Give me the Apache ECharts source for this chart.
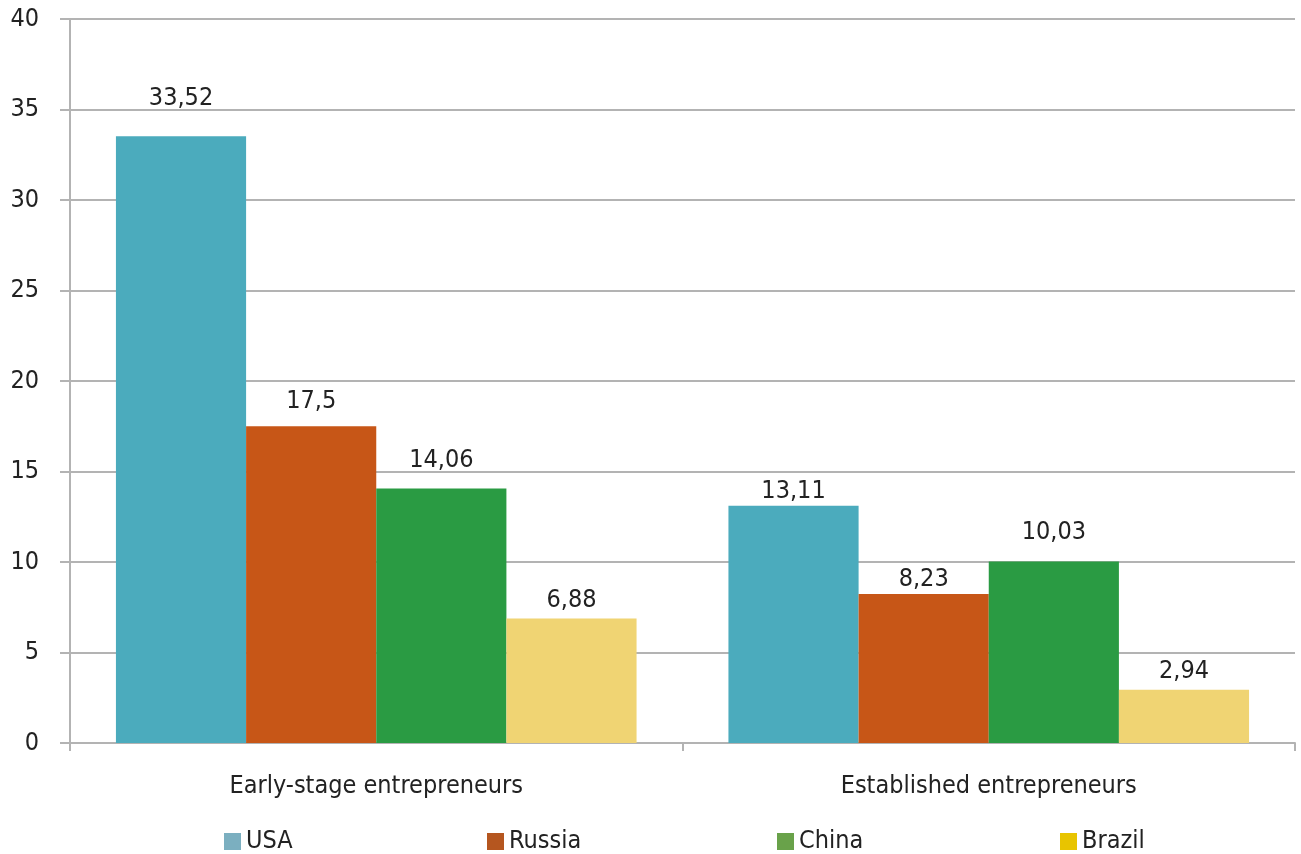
<!DOCTYPE html>
<html><head><meta charset="utf-8">
<script src="https://cdn.jsdelivr.net/npm/echarts@6/dist/echarts.min.js"></script>
<style>html,body{margin:0;padding:0;background:#fff}#c{width:1301px;height:854px}</style>
</head><body><div id="c"></div>
<script>
const categories = ['Early-stage entrepreneurs', 'Established entrepreneurs'];
const seriesNames = ['USA', 'Russia', 'China', 'Brazil'];
const usa = [33.52, 13.11];
const russia = [17.5, 8.23];
const china = [14.06, 10.03];
const brazil = [6.88, 2.94];
const yTicks = [0, 5, 10, 15, 20, 25, 30, 35, 40];

// styling (not data)
const barColors = ['#4babbd', '#c75617', '#2a9b43', '#f0d473'];
const legendColors = ['#7bafc0', '#b5561f', '#69a24a', '#e8c400'];
const legendLeft = [224, 487, 777, 1060];
const labelDist = [[25, 2], [12, 2], [16, 16], [5, 6]];
const FONT = '"Liberation Sans Narrow", "DejaVu Sans Condensed", sans-serif';
const values = [usa, russia, china, brazil];

const chart = echarts.init(document.getElementById('c'), null, {renderer: 'canvas'});
chart.setOption({
  animation: false,
  textStyle: {fontFamily: FONT},
  grid: {left: 70, right: 6, top: 19, bottom: 111, containLabel: false},
  legend: seriesNames.map((n, i) => ({
    top: 829, left: legendLeft[i], itemWidth: 17, itemHeight: 17, itemGap: 6,
    icon: 'rect', padding: 0,
    textStyle: {fontFamily: FONT, fontSize: 25, color: '#222'},
    data: [{name: n, itemStyle: {color: legendColors[i]}}]
  })),
  xAxis: {
    type: 'category', data: categories,
    axisLine: {lineStyle: {color: '#b3b3b3', width: 2}},
    axisTick: {show: true, length: 8, lineStyle: {color: '#b3b3b3', width: 2}},
    axisLabel: {fontFamily: FONT, fontSize: 25, color: '#222', margin: 31}
  },
  yAxis: {
    type: 'value', min: 0, max: 40, interval: 5,
    axisLine: {show: true, lineStyle: {color: '#b3b3b3', width: 2}},
    axisTick: {show: true, length: 10, lineStyle: {color: '#b3b3b3', width: 2}},
    splitLine: {lineStyle: {color: '#b3b3b3', width: 2}},
    axisLabel: {fontFamily: FONT, fontSize: 25, color: '#222', margin: 31,
      formatter: v => yTicks.includes(v) ? String(v) : ''}
  },
  series: seriesNames.map((n, i) => ({
    name: n, type: 'bar',
    data: values[i].map((v, j) => ({value: v, label: {distance: labelDist[i][j]}})),
    barGap: '0%', barCategoryGap: '15%',
    itemStyle: {color: barColors[i]},
    label: {show: true, position: 'top', fontFamily: FONT, fontSize: 25, color: '#222',
      formatter: p => String(p.value).replace('.', ',')}
  }))
});
</script></body></html>
